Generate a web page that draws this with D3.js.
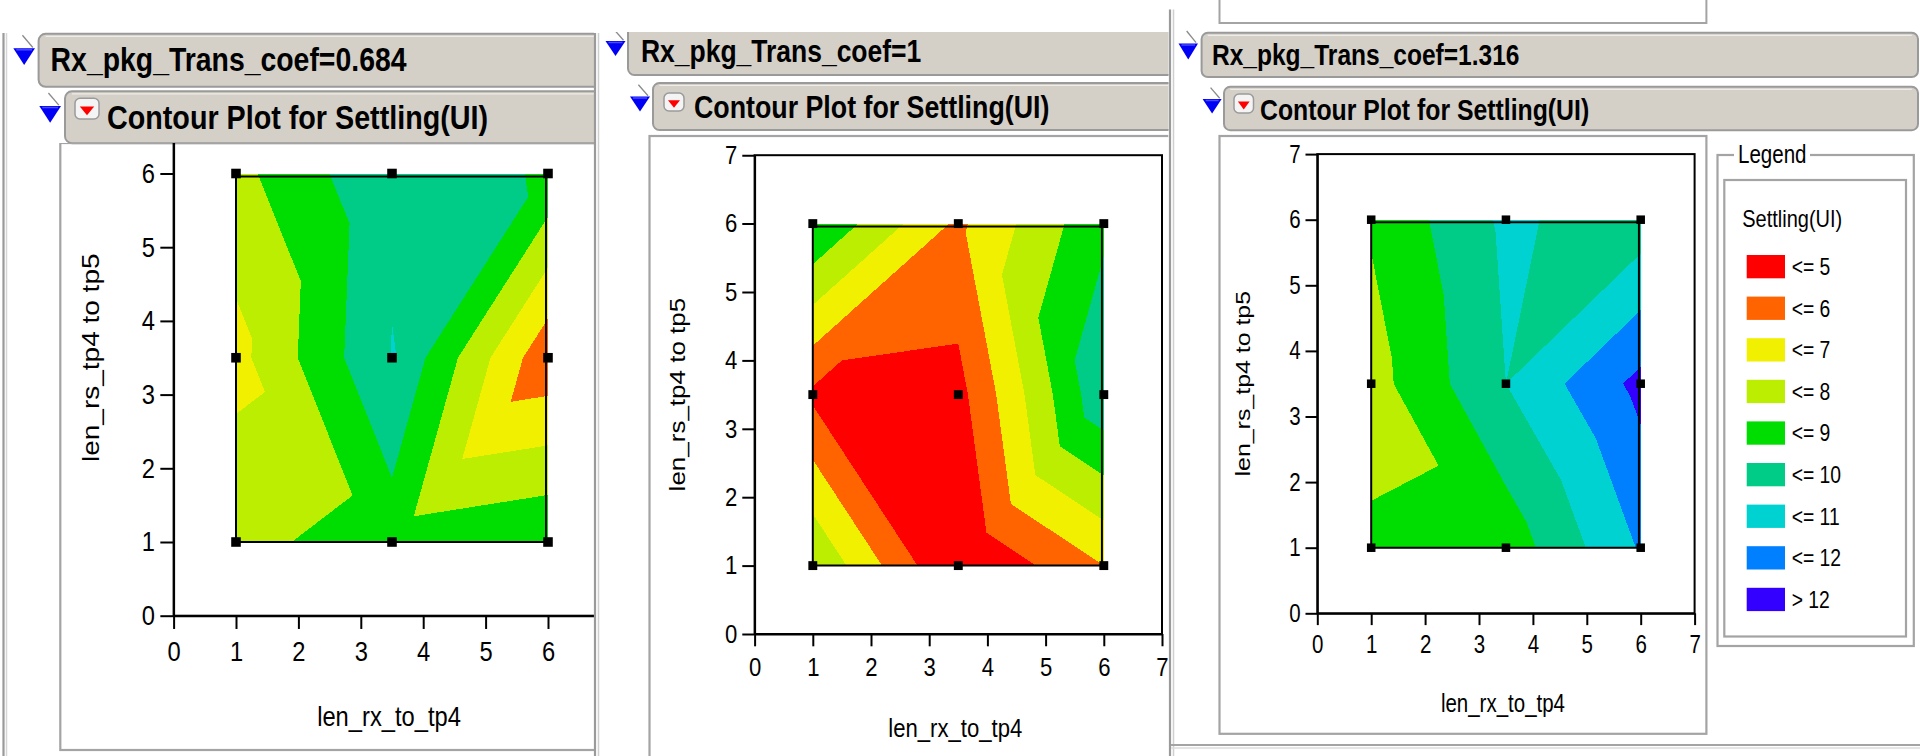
<!DOCTYPE html>
<html><head><meta charset="utf-8">
<script src="https://cdn.jsdelivr.net/npm/d3@7"></script>
<style>
html,body{margin:0;padding:0;background:#fff;}
svg{display:block;}
text{font-family:"Liberation Sans",Arial,sans-serif;}
</style></head><body>
<svg id="chart" width="1920" height="756"></svg>
<script>
// ---------------- data ----------------
const xLevels = [1, 3.5, 6];          // len_rx_to_tp4 design points
const yLevels = [1, 3.5, 6];          // len_rs_tp4 to tp5 design points
const panelTitles = ["Rx_pkg_Trans_coef=0.684", "Rx_pkg_Trans_coef=1", "Rx_pkg_Trans_coef=1.316"];
// Settling(UI) at the 3x3 design points: rows follow yLevels, columns follow xLevels
const settlingCoef0684 = [[7.75, 8.45, 8.95], [6.67, 10.03, 5.23], [7.7, 9.87, 8.85]];
const settlingCoef1    = [[7.95, 3.85, 6.0],  [4.8, 4.66, 9.8],   [9.0, 5.8, 8.81]];
const settlingCoef1316 = [[8.16, 8.4, 11.1],  [7.6, 10.0, 12.3],  [8.1, 10.2, 9.4]];
// triangulation diagonal of each grid cell: [bottom-left, bottom-right, top-left, top-right]
const diagCoef0684 = ["\\", "/", "/", "/"];
const diagCoef1    = ["\\", "/", "/", "\\"];
const diagCoef1316 = ["\\", "/", "/", "/"];
const levelThresholds = [5, 6, 7, 8, 9, 10, 11, 12];
const levelLabels = ["<= 5", "<= 6", "<= 7", "<= 8", "<= 9", "<= 10", "<= 11", "<= 12", "> 12"];
const levelColors = ["#ff0000", "#ff6400", "#f0f000", "#bbee00", "#00dd00", "#00cc88", "#00d2d2", "#0080ff", "#3300ff"];
const axisTicks = [0, 1, 2, 3, 4, 5, 6, 7];
const xTitle = "len_rx_to_tp4";
const yTitle = "len_rs_tp4 to tp5";
const subTitle = "Contour Plot for Settling(UI)";
const responseName = "Settling(UI)";
const legendTitle = "Legend";

// ---------------- layout ----------------
const layouts = [
  { x0:173.6, ux:62.4, y0:615.7, uy:73.7, k:0.847,
    clip:[8,0,586,756], plotClip:[8,143,586,613],
    frame:[60.3,143,700,750],
    h1:{x1:38.6,y1:33.8,x2:640,y2:86.8,tx:50.6,ty:71.4,tri:[13.3,48.3,21.7,16.7]},
    h2:{x1:65,y1:91.3,x2:640,y2:143.2,tx:107,ty:129,tri:[39.3,106,21.7,16.7],btn:[75,98.3,24,20.7]} },
  { x0:754.6, ux:58.2, y0:634, uy:68.4, k:0.851,
    clip:[600,32,568.5,724], plotClip:[600,32,568.5,724],
    frame:[649.5,136,1220,800],
    h1:{x1:628,y1:26,x2:1220,y2:75,tx:641,ty:61.7,tri:[605.5,41,20,15]},
    h2:{x1:653,y1:83,x2:1220,y2:130,tx:694,ty:118,tri:[630,96.5,20,15],btn:[664,93,20,18]} },
  { x0:1317.3, ux:53.9, y0:613.3, uy:65.6, k:0.822,
    clip:[1175,0,745,744], plotClip:[1175,0,745,744],
    frame:[1219.5,136,1706.4,733.8],
    h1:{x1:1201.6,y1:32.8,x2:1918,y2:77,tx:1212,ty:65,tri:[1178.5,43.5,19.5,16]},
    h2:{x1:1224,y1:86.8,x2:1918,y2:130.2,tx:1260,ty:119.6,tri:[1202.6,99,19,14.5],btn:[1234,94,19.5,19]} }
];
const panelValues = [settlingCoef0684, settlingCoef1, settlingCoef1316];
const panelDiags = [diagCoef0684, diagCoef1, diagCoef1316];

const svg = d3.select("#chart");
const defs = svg.append("defs");
let clipN = 0;
function clipRect(r){
  const id = "c" + (clipN++);
  defs.append("clipPath").attr("id", id).append("rect")
    .attr("x", r[0]).attr("y", r[1]).attr("width", r[2]).attr("height", r[3]);
  return "url(#" + id + ")";
}
function txt(g, str, x, y, fs, k, anchor, weight){
  return g.append("text").attr("transform", `translate(${x},${y}) scale(${k},1)`)
    .attr("font-size", fs).attr("text-anchor", anchor || "start")
    .attr("font-weight", weight || "normal").attr("fill", "#000").text(str);
}
function roundRect(g, x1, y1, x2, y2, r){
  g.append("rect").attr("x", x1).attr("y", y1).attr("width", x2 - x1).attr("height", y2 - y1)
    .attr("rx", r).attr("ry", r).attr("fill", "#d4d0c8").attr("stroke", "#9a9a9a").attr("stroke-width", 2);
  g.append("line").attr("x1", x1 + r).attr("x2", x2 - r).attr("y1", y1 + 2.5).attr("y2", y1 + 2.5)
    .attr("stroke", "#eeece6").attr("stroke-width", 1.2);
}
function blueTri(g, t){
  const [x, y, w, h] = t;
  g.append("line").attr("x1", x + 0.42 * w).attr("y1", y - 0.78 * h).attr("x2", x + 0.9 * w).attr("y2", y - 0.05 * h)
    .attr("stroke", "#8a8a8a").attr("stroke-width", 1.3);
  g.append("path").attr("d", `M${x},${y}L${x + w},${y}L${x + w / 2},${y + h}Z`).attr("fill", "#0000f4");
  g.append("path").attr("d", `M${x + 3},${y + 1.5}L${x + w - 3},${y + 1.5}`).attr("stroke", "#4a4aff").attr("stroke-width", 1.5);
}
function redBtn(g, b){
  const [x, y, w, h] = b;
  g.append("rect").attr("x", x).attr("y", y).attr("width", w).attr("height", h).attr("rx", 5)
    .attr("fill", "#f4f4f4").attr("stroke", "#9a9a9a").attr("stroke-width", 1.5);
  g.append("path").attr("d", `M${x + w * 0.2},${y + h * 0.4}L${x + w * 0.8},${y + h * 0.4}L${x + w / 2},${y + h * 0.82}Z`)
    .attr("fill", "#ff0000");
}
function clipPoly(poly, f){
  const out = [], n = poly.length;
  for (let i = 0; i < n; i++){
    const A = poly[i], B = poly[(i + 1) % n];
    const fa = f(A), fb = f(B);
    if (fa >= 0) out.push(A);
    if ((fa >= 0) !== (fb >= 0)){
      const t = fa / (fa - fb);
      out.push({x: A.x + (B.x - A.x) * t, y: A.y + (B.y - A.y) * t, v: A.v + (B.v - A.v) * t});
    }
  }
  return out;
}
function triangles(vals, diag){
  const tris = []; let c = 0;
  for (let j = 0; j < 2; j++) for (let i = 0; i < 2; i++){
    const P = (a, b) => ({x: xLevels[a], y: yLevels[b], v: vals[b][a]});
    const p00 = P(i, j), p10 = P(i + 1, j), p01 = P(i, j + 1), p11 = P(i + 1, j + 1);
    if (diag[c] === "/") tris.push([p00, p10, p11], [p00, p11, p01]);
    else tris.push([p00, p10, p01], [p10, p11, p01]);
    c++;
  }
  return tris;
}

layouts.forEach((L, pi) => {
  const s = L.uy / 73.7;
  const root = svg.append("g").attr("clip-path", clipRect(L.clip));
  // headers
  roundRect(root, L.h1.x1, L.h1.y1, L.h1.x2, L.h1.y2, 7 * s);
  blueTri(root, L.h1.tri);
  txt(root, panelTitles[pi], L.h1.tx, L.h1.ty, 0.455 * L.uy, L.k, "start", "bold");
  roundRect(root, L.h2.x1, L.h2.y1, L.h2.x2, L.h2.y2, 7 * s);
  blueTri(root, L.h2.tri);
  redBtn(root, L.h2.btn);
  txt(root, subTitle, L.h2.tx, L.h2.ty, 0.46 * L.uy, L.k, "start", "bold");

  const pg = root.append("g").attr("clip-path", clipRect(L.plotClip));
  const f = L.frame;
  pg.append("rect").attr("x", f[0]).attr("y", f[1]).attr("width", f[2] - f[0]).attr("height", f[3] - f[1])
    .attr("fill", "none").attr("stroke", "#a4a4a4").attr("stroke-width", 2.2);

  const xs = d3.scaleLinear().domain([0, 7]).range([L.x0, L.x0 + 7 * L.ux]);
  const ys = d3.scaleLinear().domain([0, 7]).range([L.y0, L.y0 - 7 * L.uy]);

  // contour bands
  const line = d3.line().x(p => xs(p.x)).y(p => ys(p.y)).curve(d3.curveLinearClosed);
  const cg = pg.append("g").attr("shape-rendering", "crispEdges");
  const tris = triangles(panelValues[pi], panelDiags[pi]);
  levelColors.forEach((col, b) => {
    const lo = b === 0 ? -Infinity : levelThresholds[b - 1];
    const hi = b === levelColors.length - 1 ? Infinity : levelThresholds[b];
    tris.forEach(t => {
      let poly = clipPoly(t, p => p.v - lo);
      if (poly.length >= 3) poly = clipPoly(poly, p => hi - p.v);
      if (poly.length >= 3) cg.append("path").attr("d", line(poly)).attr("fill", col);
    });
  });

  // plot box
  pg.append("rect").attr("x", xs(0)).attr("y", ys(7)).attr("width", xs(7) - xs(0)).attr("height", ys(0) - ys(7))
    .attr("fill", "none").attr("stroke", "#000").attr("stroke-width", 2);

  const ts = 0.18 * L.uy, fsA = 0.38 * L.uy;
  const gx = pg.append("g").attr("transform", `translate(0,${L.y0})`)
    .call(d3.axisBottom(xs).tickValues(axisTicks).tickSize(ts).tickPadding(12 * s).tickSizeOuter(0).tickFormat(d3.format("d")));
  const gy = pg.append("g").attr("transform", `translate(${L.x0},0)`)
    .call(d3.axisLeft(ys).tickValues(axisTicks).tickSize(ts).tickPadding(5.5 * s).tickSizeOuter(0).tickFormat(d3.format("d")));
  [gx, gy].forEach(g => {
    g.attr("font-size", fsA).attr("font-family", "Liberation Sans, Arial, sans-serif");
    g.select(".domain").attr("stroke", "#000").attr("stroke-width", 2);
    g.selectAll(".tick line").attr("stroke", "#000").attr("stroke-width", 2);
    g.selectAll(".tick text").attr("fill", "#000").attr("transform", `scale(${L.k},1)`);
  });
  gy.selectAll(".tick text").attr("x", -(ts + 5.5 * s) / L.k);

  // design region outline and points
  const top = ys(6) + 3 * s, right = xs(6) - 2 * s;
  pg.append("path").attr("d", `M${xs(1)},${ys(1)}L${xs(1)},${top}L${right},${top}L${right},${ys(1)}Z`)
    .attr("fill", "none").attr("stroke", "#000").attr("stroke-width", 2);
  const m = 0.13 * L.uy;
  yLevels.forEach(yv => xLevels.forEach(xv => {
    pg.append("rect").attr("x", xs(xv) - m / 2).attr("y", ys(yv) - m / 2).attr("width", m).attr("height", m).attr("fill", "#000");
  }));

  // axis titles
  txt(pg, xTitle, xs(3.5) - 3, L.y0 + 1.5 * L.uy, fsA, L.k, "middle");
  pg.append("text")
    .attr("transform", `translate(${xs(0) - 1.13 * L.uy},${ys(3.5)}) scale(${L.k},1) rotate(-90)`)
    .attr("font-size", fsA).attr("text-anchor", "middle").attr("dy", "0.35em").attr("fill", "#000").text(yTitle);
});

// separators and frames of the window
const sep = svg.append("g").attr("fill", "none");
sep.append("line").attr("x1", 3.5).attr("x2", 3.5).attr("y1", 33).attr("y2", 756).attr("stroke", "#9a9a9a").attr("stroke-width", 2.2);
sep.append("line").attr("x1", 6.5).attr("x2", 6.5).attr("y1", 33).attr("y2", 756).attr("stroke", "#d6d6d6").attr("stroke-width", 1.5);
sep.append("line").attr("x1", 595).attr("x2", 595).attr("y1", 33).attr("y2", 756).attr("stroke", "#9a9a9a").attr("stroke-width", 2.2);
sep.append("line").attr("x1", 598.5).attr("x2", 598.5).attr("y1", 33).attr("y2", 756).attr("stroke", "#cfcfcf").attr("stroke-width", 1.5);
sep.append("line").attr("x1", 1170).attr("x2", 1170).attr("y1", 9.6).attr("y2", 756).attr("stroke", "#9a9a9a").attr("stroke-width", 2.2);
sep.append("line").attr("x1", 1173.5).attr("x2", 1173.5).attr("y1", 9.6).attr("y2", 756).attr("stroke", "#cfcfcf").attr("stroke-width", 1.5);
sep.append("line").attr("x1", 1171).attr("x2", 1920).attr("y1", 745).attr("y2", 745).attr("stroke", "#a4a4a4").attr("stroke-width", 2.2);
sep.append("line").attr("x1", 1171).attr("x2", 1920).attr("y1", 748).attr("y2", 748).attr("stroke", "#dcdcdc").attr("stroke-width", 1.5);
sep.append("rect").attr("x", 1219.5).attr("y", -6).attr("width", 486.9).attr("height", 29).attr("stroke", "#a4a4a4").attr("stroke-width", 2);

// legend
const lg = svg.append("g");
lg.append("rect").attr("x", 1717.5).attr("y", 155).attr("width", 196.3).attr("height", 491)
  .attr("fill", "none").attr("stroke", "#a4a4a4").attr("stroke-width", 2.2);
lg.append("rect").attr("x", 1724.3).attr("y", 180).attr("width", 181.7).attr("height", 456.5)
  .attr("fill", "none").attr("stroke", "#a4a4a4").attr("stroke-width", 2.2);
lg.append("rect").attr("x", 1734).attr("y", 146).attr("width", 76).attr("height", 20).attr("fill", "#fff");
txt(lg, legendTitle, 1738, 162.7, 25, 0.822);
txt(lg, responseName, 1742.3, 226.7, 24.3, 0.822);
levelColors.forEach((c, i) => {
  const yy = 255 + i * 41.6;
  lg.append("rect").attr("x", 1746.7).attr("y", yy).attr("width", 38.3).attr("height", 23.3).attr("fill", c);
  txt(lg, levelLabels[i], 1791.7, yy + 11.65 + 8.3, 23.5, 0.822);
});
</script>
</body></html>
